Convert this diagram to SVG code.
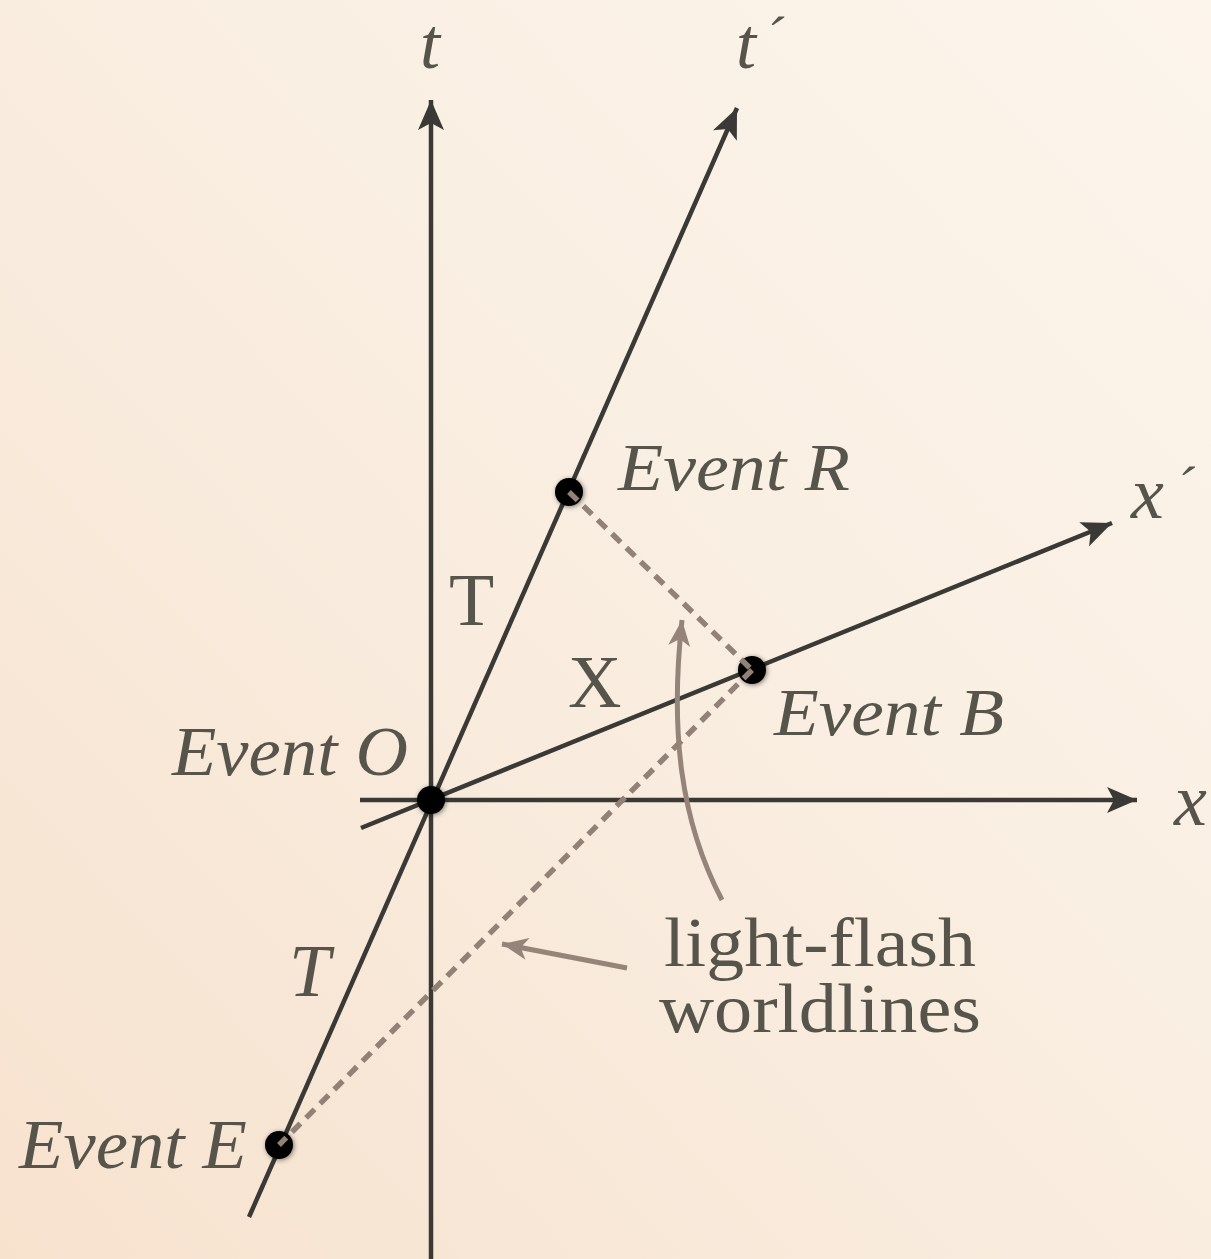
<svg xmlns="http://www.w3.org/2000/svg" width="1211" height="1259" viewBox="0 0 1211 1259">
<defs>
<linearGradient id="bg" x1="0" y1="1" x2="1" y2="0">
<stop offset="0" stop-color="#f7e2ce"/>
<stop offset="0.5" stop-color="#f9ede0"/>
<stop offset="1" stop-color="#fcf5ec"/>
</linearGradient>
<marker id="ah" viewBox="-32 -15 34 30" refX="0" refY="0" markerWidth="34" markerHeight="30" markerUnits="userSpaceOnUse" orient="auto">
<path d="M0,0 L-30,-13 L-23,0 L-30,13 Z" fill="#3a3935"/>
</marker>
<marker id="lh" viewBox="-28 -13 30 26" refX="0" refY="0" markerWidth="30" markerHeight="26" markerUnits="userSpaceOnUse" orient="auto">
<path d="M0,0 L-26,-11 L-19,0 L-26,11 Z" fill="#958479"/>
</marker>
<filter id="sh" x="-50%" y="-50%" width="200%" height="200%">
<feGaussianBlur in="SourceAlpha" stdDeviation="2.5"/>
<feOffset dx="1" dy="1" result="b"/>
<feComponentTransfer><feFuncA type="linear" slope="0.5"/></feComponentTransfer>
<feMerge><feMergeNode/><feMergeNode in="SourceGraphic"/></feMerge>
</filter>
</defs>
<style>
.ax{stroke:#3a3935;stroke-width:4.5;fill:none;stroke-linecap:butt}
.lt{stroke:#958479;stroke-width:5;fill:none}
.dash{stroke:#918177;stroke-width:5.5;fill:none;stroke-dasharray:12 8}
.lab{font-family:"Liberation Serif",serif;fill:#57554b}
.it{font-style:italic}
.dot{fill:#000}
</style>
<rect width="1211" height="1259" fill="url(#bg)"/>
<g id="connectors">
<line class="ax" x1="431" y1="1259" x2="431" y2="100" marker-end="url(#ah)"/>
<line class="ax" x1="360" y1="800" x2="1137" y2="800" marker-end="url(#ah)"/>
<line class="ax" x1="249" y1="1217" x2="737" y2="108" marker-end="url(#ah)"/>
<line class="ax" x1="361" y1="828" x2="1112" y2="523" marker-end="url(#ah)"/>
<path class="lt" d="M722,900 C680,820 670,730 682,620" marker-end="url(#lh)"/>
<line class="lt" x1="627" y1="968" x2="502" y2="944" marker-end="url(#lh)"/>
</g>
<g id="eventO"><circle class="dot" cx="431" cy="800" r="14" filter="url(#sh)"/><text class="lab it" x="172" y="775" font-size="70" textLength="236" lengthAdjust="spacingAndGlyphs">Event O</text></g>
<g id="eventR"><circle class="dot" cx="569" cy="492" r="14" filter="url(#sh)"/><text class="lab it" x="618" y="490" font-size="68" textLength="232" lengthAdjust="spacingAndGlyphs">Event R</text></g>
<g id="eventB"><circle class="dot" cx="752" cy="670" r="14" filter="url(#sh)"/><text class="lab it" x="774" y="735" font-size="68" textLength="230" lengthAdjust="spacingAndGlyphs">Event B</text></g>
<g id="eventE"><circle class="dot" cx="279" cy="1145" r="14" filter="url(#sh)"/><text class="lab it" x="19" y="1168" font-size="70" textLength="228" lengthAdjust="spacingAndGlyphs">Event E</text></g>
<g id="lightflashes">
<line class="dash" x1="569" y1="492" x2="752" y2="670"/>
<line class="dash" x1="752" y1="670" x2="279" y2="1145"/>
</g>
<g id="labels">
<text class="lab it" x="420" y="68" font-size="72">t</text>
<text class="lab it" x="736" y="68" font-size="72">t<tspan dx="9" dy="-12" font-size="56">´</tspan></text>
<text class="lab it" x="1174" y="825" font-size="74">x</text>
<text class="lab it" x="1131" y="518" font-size="74">x<tspan dx="12" dy="-12" font-size="56">´</tspan></text>
<text class="lab" x="449" y="625" font-size="74">T</text>
<text class="lab it" x="289" y="996" font-size="74">T</text>
<text class="lab" x="568" y="707" font-size="74">X</text>
<text class="lab" x="664" y="966" font-size="70" textLength="312" lengthAdjust="spacingAndGlyphs">light-flash</text>
<text class="lab" x="659" y="1032" font-size="70" textLength="322" lengthAdjust="spacingAndGlyphs">worldlines</text>
</g>
</svg>
